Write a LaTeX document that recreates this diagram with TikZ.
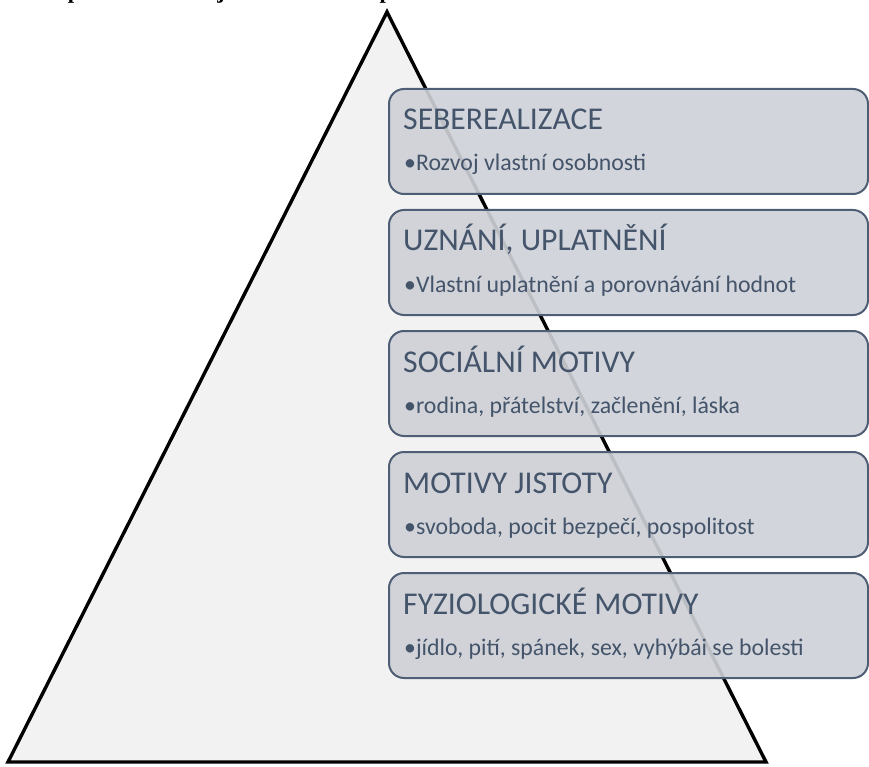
\documentclass[tikz,border=0pt]{standalone}
\usepackage{fontspec}
\setmainfont{Carlito}
\newfontfamily\titlefont{Liberation Serif}
\usetikzlibrary{calc}

\definecolor{pyrfill}{HTML}{F2F2F2}
\definecolor{stagefill}{RGB}{206,209,215}
\definecolor{stageline}{HTML}{4E5E74}
\definecolor{stagetext}{HTML}{44546A}

\tikzset{
  pyramid/.style={draw=black, line width=3.4pt, fill=pyrfill, line join=miter},
  stagebox/.style={draw=stageline, line width=2pt, fill=stagefill, fill opacity=0.91,
    rounded corners=15pt, minimum width=479pt, minimum height=105pt,
    inner sep=0pt, anchor=north west},
  headtext/.style={text=stagetext, font=\fontsize{31.7}{36}\selectfont,
    inner sep=0pt, anchor=base west},
  subtext/.style={text=stagetext, font=\fontsize{23.8}{28}\selectfont,
    inner sep=0pt, anchor=base west},
  titletext/.style={font=\titlefont\bfseries\fontsize{22.8}{26}\selectfont,
    inner sep=0pt, anchor=base west}
}

\begin{document}
\begin{tikzpicture}[x=1pt,y=-1pt]
\useasboundingbox (0,0) rectangle (869,767);
\clip (0,0) rectangle (869,767);

% heading line running above the page edge
\node[titletext] (title) at (0,-1) {Model potřeb člověka je rozvrstven do pěti};

% the pyramid
\coordinate (apex) at (387,12);
\coordinate (baseR) at (766,762);
\coordinate (baseL) at (8,762);
\draw[pyramid] (apex) -- (baseR) -- (baseL) -- cycle;

% the five levels, top to bottom
\foreach \i/\head/\sub in {
  0/{SEBEREALIZACE}/{Rozvoj vlastní osobnosti},
  1/{UZNÁNÍ, UPLATNĚNÍ}/{Vlastní uplatnění a porovnávání hodnot},
  2/{SOCIÁLNÍ MOTIVY}/{rodina, přátelství, začlenění, láska},
  3/{MOTIVY JISTOTY}/{svoboda, pocit bezpečí, pospolitost},
  4/{FYZIOLOGICKÉ MOTIVY}/{jídlo, pití, spánek, sex, vyhýbái se bolesti}} {
  \node[stagebox] (box\i) at (388, 88+121*\i) {};
  \node[headtext] (head\i) at ($(box\i.north west)+(15,42)$) {\head};
  \node[subtext] (sub\i) at ($(box\i.north west)+(16,83)$) {•\sub};
}
\end{tikzpicture}
\end{document}
